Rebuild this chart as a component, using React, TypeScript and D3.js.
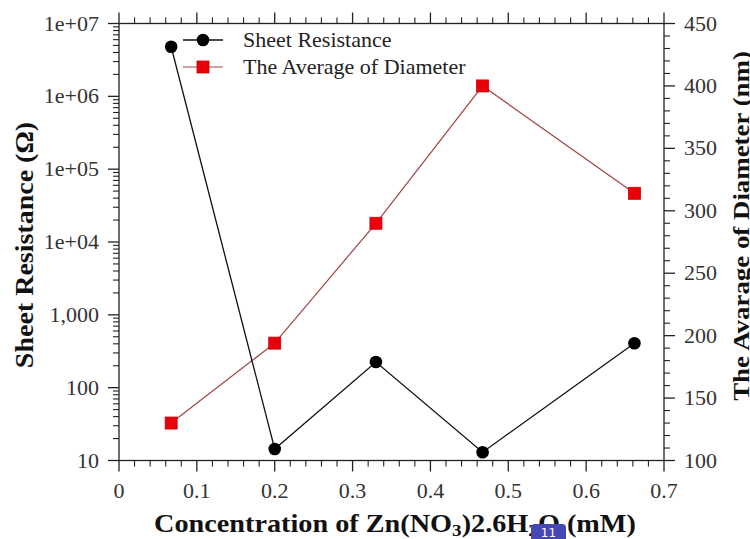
import React from "react";
import * as d3 from "d3";

const concentration = [0.067, 0.2, 0.33, 0.467, 0.662];
const sheetResistance = [4.8e6, 14.4, 225, 13, 407];
const diameter = [130, 194, 290, 400, 314];

const xTickValues = [0, 0.1, 0.2, 0.3, 0.4, 0.5, 0.6, 0.7];
const leftTickValues = [10, 100, 1000, 1e4, 1e5, 1e6, 1e7];
const leftTickLabels = ["10", "100", "1,000", "1e+04", "1e+05", "1e+06", "1e+07"];
const rightTickValues = [100, 150, 200, 250, 300, 350, 400, 450];

const legendLabels = ["Sheet Resistance", "The Average of Diameter"];

const FONT = "'Liberation Serif', 'Times New Roman', serif";

export default function App() {
  const W = 750, H = 539;
  const L = 119, R = 664, T = 23.5, B = 460.5;
  const x = d3.scaleLinear().domain([0, 0.7]).range([L, R]);
  const yL = d3.scaleLog().domain([10, 1e7]).range([B, T]);
  const yR = d3.scaleLinear().domain([100, 450]).range([B, T]);

  const xMinor = d3.range(0, 36).filter((i) => i % 5 !== 0).map((i) => i * 0.02);
  const leftMinor: number[] = [];
  for (let k = 1; k <= 6; k++) for (let m = 2; m <= 9; m++) leftMinor.push(m * Math.pow(10, k));
  const rightMinor = d3.range(100, 451, 10).filter((v) => v % 50 !== 0);

  const lineRes = d3
    .line<number>()
    .x((_, i) => x(concentration[i]))
    .y((d) => yL(d));
  const lineDia = d3
    .line<number>()
    .x((_, i) => x(concentration[i]))
    .y((d) => yR(d));

  const majorLen = 11, minorLen = 6;
  const stroke = "#222";

  return (
    <svg width={W} height={H} style={{ position: "absolute", left: 0, top: 0, background: "#fff" }} fontFamily={FONT}>
      <rect x={0} y={0} width={W} height={H} fill="#fff" />
      {/* frame */}
      <rect x={L} y={T} width={R - L} height={B - T} fill="none" stroke={stroke} strokeWidth={1.3} />

      {/* bottom & top ticks */}
      {xTickValues.map((v) => (
        <g key={"xt" + v}>
          <line x1={x(v)} x2={x(v)} y1={B} y2={B + majorLen} stroke={stroke} strokeWidth={1.3} />
          <line x1={x(v)} x2={x(v)} y1={T} y2={T - majorLen} stroke={stroke} strokeWidth={1.3} />
          <text x={x(v)} y={B + 37} textAnchor="middle" fontSize={22} fill="#333">
            {String(v)}
          </text>
        </g>
      ))}
      {xMinor.map((v) => (
        <g key={"xm" + v}>
          <line x1={x(v)} x2={x(v)} y1={B} y2={B + minorLen} stroke={stroke} strokeWidth={1.1} />
          <line x1={x(v)} x2={x(v)} y1={T} y2={T - minorLen} stroke={stroke} strokeWidth={1.1} />
        </g>
      ))}

      {/* left ticks */}
      {leftTickValues.map((v, i) => (
        <g key={"lt" + v}>
          <line x1={L} x2={L - majorLen} y1={yL(v)} y2={yL(v)} stroke={stroke} strokeWidth={1.3} />
          <text x={L - 20} y={yL(v) + 7} textAnchor="end" fontSize={22} fill="#333">
            {leftTickLabels[i]}
          </text>
        </g>
      ))}
      {leftMinor.map((v) => (
        <line key={"lm" + v} x1={L} x2={L - minorLen} y1={yL(v)} y2={yL(v)} stroke={stroke} strokeWidth={1.1} />
      ))}

      {/* right ticks */}
      {rightTickValues.map((v) => (
        <g key={"rt" + v}>
          <line x1={R} x2={R + majorLen} y1={yR(v)} y2={yR(v)} stroke={stroke} strokeWidth={1.3} />
          <text x={R + 20} y={yR(v) + 7} textAnchor="start" fontSize={22} fill="#333">
            {String(v)}
          </text>
        </g>
      ))}
      {rightMinor.map((v) => (
        <line key={"rm" + v} x1={R} x2={R + minorLen} y1={yR(v)} y2={yR(v)} stroke={stroke} strokeWidth={1.1} />
      ))}

      {/* series lines */}
      <path d={lineDia(diameter) || ""} fill="none" stroke="#a04444" strokeWidth={1.2} />
      <path d={lineRes(sheetResistance) || ""} fill="none" stroke="#111" strokeWidth={1.3} />
      {diameter.map((d, i) => (
        <rect key={"dm" + i} x={x(concentration[i]) - 6} y={yR(d) - 6} width={12} height={12} fill="#e8000b" stroke="#c00" strokeWidth={0.8} />
      ))}
      {sheetResistance.map((d, i) => (
        <circle key={"rs" + i} cx={x(concentration[i])} cy={yL(d)} r={6.3} fill="#000" />
      ))}

      {/* legend */}
      <g>
        <line x1={183} x2={223} y1={40} y2={40} stroke="#111" strokeWidth={1.3} />
        <circle cx={203} cy={40} r={6.3} fill="#000" />
        <text x={243} y={47} fontSize={22} fill="#222">{legendLabels[0]}</text>
        <line x1={183} x2={223} y1={67} y2={67} stroke="#a04444" strokeWidth={1.2} />
        <rect x={197} y={61} width={12} height={12} fill="#e8000b" stroke="#c00" strokeWidth={0.8} />
        <text x={243} y={74} fontSize={22} fill="#222">{legendLabels[1]}</text>
      </g>

      {/* axis titles */}
      <g transform="translate(395,532) scale(1.13,1)">
        <text x={0} y={0} textAnchor="middle" fontSize={25} fontWeight="bold" fill="#111">
          Concentration of Zn(NO<tspan fontSize={17} dy={4}>3</tspan>
          <tspan dy={-4}>)2.6H</tspan>
          <tspan fontSize={17} dy={4}>2</tspan>
          <tspan dy={-4}>O (mM)</tspan>
        </text>
      </g>
      <g transform="translate(33,245) rotate(-90) scale(1.12,1)">
        <text x={0} y={0} textAnchor="middle" fontSize={25} fontWeight="bold" fill="#111">
          Sheet Resistance (Ω)
        </text>
      </g>
      <g transform="translate(749,226) rotate(-90) scale(1.12,1)">
        <text x={0} y={0} textAnchor="middle" fontSize={24} fontWeight="bold" fill="#111">
          The Avarage of Diameter (nm)
        </text>
      </g>

      {/* page badge */}
      <rect x={531} y={524} width={35} height={18} rx={4} fill="#4646b4" />
      <text x={548.5} y={537} textAnchor="middle" fontSize={12} fontFamily="'DejaVu Sans', sans-serif" fill="#fff">11</text>
    </svg>
  );
}
